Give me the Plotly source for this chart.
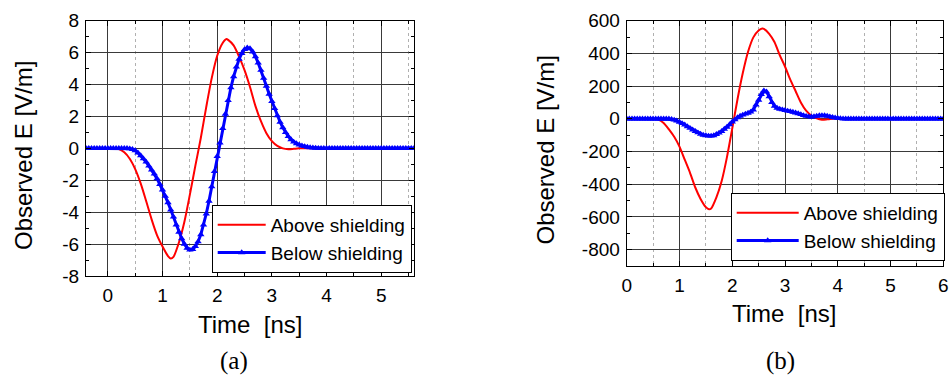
import plotly.graph_objects as go

# ---------------- data: panel (a) ----------------
time_red_a = [-0.4, 0.0, 0.1, 0.2, 0.3, 0.4, 0.5, 0.6, 0.7, 0.8, 0.9, 1.0, 1.1, 1.15, 1.2, 1.3, 1.4,
              1.5, 1.6, 1.7, 1.8, 1.9, 2.0, 2.1, 2.17, 2.2, 2.3, 2.4, 2.5, 2.6, 2.7, 2.8, 2.9, 3.0,
              3.1, 3.2, 3.3, 3.4, 3.5, 5.6]
above_a = [0, 0, 0, -0.05, -0.25, -0.65, -1.3, -2.2, -3.3, -4.45, -5.45, -6.15, -6.75, -6.9, -6.8, -5.9, -4.6,
           -2.9, -1.1, 0.65, 2.6, 4.4, 5.8, 6.6, 6.85, 6.8, 6.45, 5.75, 4.9, 3.85, 2.65, 1.7, 0.95, 0.45,
           0.15, 0.0, -0.05, -0.03, 0, 0]

# below shielding (a): sampled every 0.05 ns starting at -0.4 ns
below_a_t0 = -0.4
below_a_dt = 0.05
below_a = [
    0, 0, 0, 0, 0, 0, 0, 0, 0, 0,
    0, 0, 0, 0, 0, 0, -0.02, -0.06, -0.14, -0.28,
    -0.45, -0.65, -0.85, -1.1, -1.35, -1.6, -1.9, -2.25, -2.6, -3.0,
    -3.4, -3.85, -4.3, -4.8, -5.25, -5.65, -6.0, -6.25, -6.37, -6.33,
    -6.15, -5.85, -5.4, -4.8, -4.1, -3.3, -2.4, -1.45, -0.5, 0.35,
    1.25, 2.15, 3.0, 3.8, 4.5, 5.1, 5.6, 5.95, 6.2, 6.3,
    6.25, 6.05, 5.75, 5.35, 4.9, 4.4, 3.9, 3.4, 2.95, 2.5,
    2.05, 1.65, 1.3, 1.0, 0.75, 0.55, 0.4, 0.3, 0.22, 0.16,
    0.12, 0.08, 0.05, 0.03, 0.02, 0.01, 0, 0, 0, 0,
    0, 0, 0, 0, 0, 0, 0, 0, 0, 0,
    0, 0, 0, 0, 0, 0, 0, 0, 0, 0,
    0, 0, 0, 0, 0, 0, 0, 0, 0, 0,
    0,
]

# ---------------- data: panel (b) ----------------
time_red_b = [0, 0.5, 0.6, 0.7, 0.8, 0.9, 1.0, 1.1, 1.2, 1.3, 1.4, 1.5, 1.56, 1.6, 1.7, 1.8, 1.9, 2.0,
              2.1, 2.2, 2.3, 2.4, 2.5, 2.57, 2.6, 2.7, 2.8, 2.9, 3.0, 3.1, 3.2, 3.3, 3.4, 3.5, 3.6,
              3.7, 3.8, 3.9, 6.0]
above_b = [0, 0, -5, -25, -65, -110, -170, -250, -330, -420, -490, -540, -553, -548, -480, -380, -234, -60,
           120, 280, 410, 498, 540, 552, 550, 520, 470, 390, 320, 240, 170, 100, 50, 20, 3,
           -5, -3, 0, 0]

below_b_t0 = 0.0
below_b_dt = 0.05
below_b = [
    0, 0, 0, 0, 0, 0, 0, 0, 0, 0,
    0, 0, 0, 0, 0, 0, 0, -3, -7, -12,
    -20, -28, -37, -47, -57, -67, -76, -85, -93, -99,
    -102, -105, -105, -102, -95, -86, -76, -63, -50, -35,
    -18, -5, 8, 17, 24, 30, 35, 42, 55, 85,
    115, 150, 172, 165, 135, 100, 78, 66, 60, 56,
    52, 48, 45, 41, 37, 32, 27, 21, 16, 13,
    12, 14, 17, 20, 21, 20, 17, 13, 9, 6,
    4, 2, 0, 0, 0, 0, 0, 0, 0, 0,
    0, 0, 0, 0, 0, 0, 0, 0, 0, 0,
    0, 0, 0, 0, 0, 0, 0, 0, 0, 0,
    0, 0, 0, 0, 0, 0, 0, 0, 0, 0,
    0,
]

# tick labels
yticks_a = [-8, -6, -4, -2, 0, 2, 4, 6, 8]
yticklabels_a = ["-8", "-6", "-4", "-2", "0", "2", "4", "6", "8"]
yticks_b = [-800, -600, -400, -200, 0, 200, 400, 600]
yticklabels_b = ["-800", "-600", "-400", "-200", "0", "200", "400", "600"]

series_names = ["Above shielding", "Below shielding"]
y_title = "Observed E [V/m]"
x_title = "Time \u00a0[ns]"
panel_labels = ["(a)", "(b)"]

RED = "#ff0000"
BLUE = "#0000ff"
SANS = "Liberation Sans, Arial, sans-serif"
SERIF = "Liberation Serif, Times New Roman, serif"

fig = go.Figure()

# panel (a)
fig.add_trace(go.Scatter(x=time_red_a, y=above_a, mode="lines", name=series_names[0],
                         line=dict(color=RED, width=2, shape="spline", smoothing=0.7),
                         xaxis="x", yaxis="y", legend="legend"))
fig.add_trace(go.Scatter(x0=below_a_t0, dx=below_a_dt, y=below_a, mode="lines+markers", name=series_names[1],
                         line=dict(color=BLUE, width=3),
                         marker=dict(symbol="triangle-up", size=6.5, color=BLUE),
                         xaxis="x", yaxis="y", legend="legend"))
# panel (b)
fig.add_trace(go.Scatter(x=time_red_b, y=above_b, mode="lines", name=series_names[0],
                         line=dict(color=RED, width=2, shape="spline", smoothing=0.7),
                         xaxis="x2", yaxis="y2", legend="legend2"))
fig.add_trace(go.Scatter(x0=below_b_t0, dx=below_b_dt, y=below_b, mode="lines+markers", name=series_names[1],
                         line=dict(color=BLUE, width=3),
                         marker=dict(symbol="triangle-up", size=6.5, color=BLUE),
                         xaxis="x2", yaxis="y2", legend="legend2"))

W, H = 949, 375


def ax_common():
    return dict(showline=True, linecolor="black", linewidth=1, mirror="allticks",
                ticks="inside", ticklen=5, tickcolor="black", ticklabelstandoff=2,
                showgrid=True, gridcolor="#3a3a3a", gridwidth=1, zeroline=False,
                tickfont=dict(family=SANS, size=19, color="black"))


xa = ax_common()
xa.update(range=[-0.4, 5.6], tick0=0, dtick=1, domain=[86 / W, 414 / W], anchor="y",
          minor=dict(tick0=0, dtick=0.5, ticks="inside", ticklen=3, tickcolor="black",
                     showgrid=True, gridcolor="#b0b0b0", griddash="dot", gridwidth=1))
ya = ax_common()
ya.update(range=[-8, 8], tickmode="array", tickvals=yticks_a, ticktext=yticklabels_a,
          domain=[(H - 276) / H, (H - 20.7) / H], anchor="x",
          minor=dict(tick0=0, dtick=1, ticks="inside", ticklen=3, tickcolor="black", showgrid=False))
xb = ax_common()
xb.update(range=[0, 6], tick0=0, dtick=1, domain=[626.7 / W, 943.3 / W], anchor="y2",
          minor=dict(tick0=0, dtick=0.5, ticks="inside", ticklen=3, tickcolor="black",
                     showgrid=True, gridcolor="#b0b0b0", griddash="dot", gridwidth=1))
yb = ax_common()
yb.update(range=[-900, 600], tickmode="array", tickvals=yticks_b, ticktext=yticklabels_b,
          domain=[(H - 266) / H, (H - 20.7) / H], anchor="x2",
          minor=dict(tick0=0, dtick=100, ticks="inside", ticklen=3, tickcolor="black", showgrid=False))

legend_style = dict(bgcolor="white", bordercolor="black", borderwidth=1,
                    font=dict(family=SANS, size=19, color="black"),
                    xanchor="left", yanchor="top", tracegroupgap=0)

annotations = [
    dict(text=y_title, x=23 / W, y=(H - 156) / H, textangle=-90),
    dict(text=y_title, x=545 / W, y=(H - 150.5) / H, textangle=-90),
    dict(text=x_title, x=250 / W, y=(H - 324) / H),
    dict(text=x_title, x=784 / W, y=(H - 313) / H),
]
annotations = [dict(a, xref="paper", yref="paper", showarrow=False, xanchor="center", yanchor="middle",
                    font=dict(family=SANS, size=24, color="black")) for a in annotations]
annotations += [
    dict(text=panel_labels[0], x=233.5 / W, y=(H - 361) / H),
    dict(text=panel_labels[1], x=780 / W, y=(H - 361) / H),
]
for a in annotations[4:]:
    a.update(xref="paper", yref="paper", showarrow=False, xanchor="center", yanchor="middle",
             font=dict(family=SERIF, size=25, color="black"))

fig.update_layout(
    width=W, height=H, margin=dict(l=0, r=0, t=0, b=0, autoexpand=False),
    paper_bgcolor="white", plot_bgcolor="white",
    xaxis=xa, yaxis=ya, xaxis2=xb, yaxis2=yb,
    legend=dict(legend_style, x=211.7 / W, y=(H - 205) / H, itemwidth=48),
    legend2=dict(legend_style, x=730.7 / W, y=(H - 193) / H, itemwidth=62),
    annotations=annotations,
    showlegend=True,
)

fig.write_html("out.html", config={"displayModeBar": False},
               post_script="document.body.style.margin='0';document.body.style.overflow='hidden';")
